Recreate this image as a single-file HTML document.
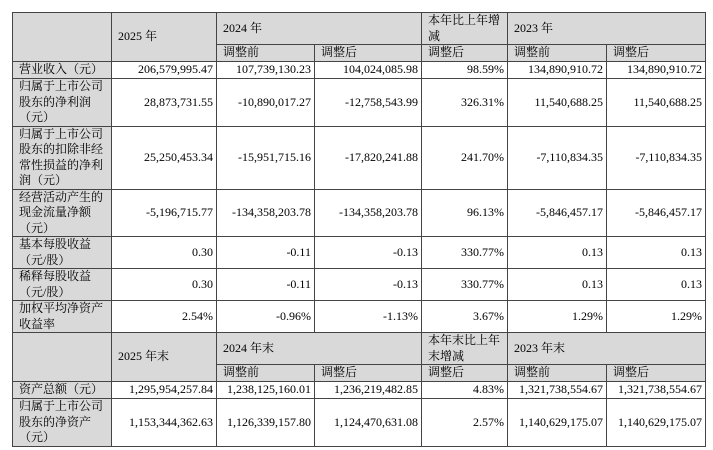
<!DOCTYPE html>
<html><head><meta charset="utf-8"><style>
body{margin:0;background:#fff;width:713px;height:450px;overflow:hidden;position:relative}
table{position:absolute;left:12px;top:12px;border-collapse:collapse;table-layout:fixed;font-family:"Liberation Serif","Noto Serif CJK SC",serif;font-size:12px;color:#000}
td{border:1px solid #444;padding:0 3px 0 6px;line-height:15.5px;overflow:hidden;vertical-align:middle}
.g{background:#d9d9d9}
.r{text-align:right}
.l{padding-left:6px}
</style></head><body>
<table>
<colgroup><col style="width:99px"><col style="width:105px"><col style="width:98px"><col style="width:107px"><col style="width:86px"><col style="width:99px"><col style="width:99px"></colgroup>
<tr style="height:31px"><td class="g" rowspan="2"></td><td class="g" rowspan="2">2025 年</td><td class="g" colspan="2">2024 年</td><td class="g">本年比上年增减</td><td class="g" colspan="2">2023 年</td></tr>
<tr style="height:17px"><td class="g">调整前</td><td class="g">调整后</td><td class="g">调整后</td><td class="g">调整前</td><td class="g">调整后</td></tr>
<tr style="height:17px"><td class="g">营业收入（元）</td><td class="r">206,579,995.47</td><td class="r">107,739,130.23</td><td class="r">104,024,085.98</td><td class="r">98.59%</td><td class="r">134,890,910.72</td><td class="r">134,890,910.72</td></tr>
<tr style="height:47px"><td class="g">归属于上市公司股东的净利润（元）</td><td class="r">28,873,731.55</td><td class="r">-10,890,017.27</td><td class="r">-12,758,543.99</td><td class="r">326.31%</td><td class="r">11,540,688.25</td><td class="r">11,540,688.25</td></tr>
<tr style="height:62px"><td class="g">归属于上市公司股东的扣除非经常性损益的净利润（元）</td><td class="r">25,250,453.34</td><td class="r">-15,951,715.16</td><td class="r">-17,820,241.88</td><td class="r">241.70%</td><td class="r">-7,110,834.35</td><td class="r">-7,110,834.35</td></tr>
<tr style="height:47px"><td class="g">经营活动产生的现金流量净额（元）</td><td class="r">-5,196,715.77</td><td class="r">-134,358,203.78</td><td class="r">-134,358,203.78</td><td class="r">96.13%</td><td class="r">-5,846,457.17</td><td class="r">-5,846,457.17</td></tr>
<tr style="height:32px"><td class="g">基本每股收益（元/股）</td><td class="r">0.30</td><td class="r">-0.11</td><td class="r">-0.13</td><td class="r">330.77%</td><td class="r">0.13</td><td class="r">0.13</td></tr>
<tr style="height:31px"><td class="g">稀释每股收益（元/股）</td><td class="r">0.30</td><td class="r">-0.11</td><td class="r">-0.13</td><td class="r">330.77%</td><td class="r">0.13</td><td class="r">0.13</td></tr>
<tr style="height:32px"><td class="g">加权平均净资产收益率</td><td class="r">2.54%</td><td class="r">-0.96%</td><td class="r">-1.13%</td><td class="r">3.67%</td><td class="r">1.29%</td><td class="r">1.29%</td></tr>
<tr style="height:31px"><td class="g" rowspan="2"></td><td class="g" rowspan="2">2025 年末</td><td class="g" colspan="2">2024 年末</td><td class="g">本年末比上年末增减</td><td class="g" colspan="2">2023 年末</td></tr>
<tr style="height:17px"><td class="g">调整前</td><td class="g">调整后</td><td class="g">调整后</td><td class="g">调整前</td><td class="g">调整后</td></tr>
<tr style="height:17px"><td class="g">资产总额（元）</td><td class="r">1,295,954,257.84</td><td class="r">1,238,125,160.01</td><td class="r">1,236,219,482.85</td><td class="r">4.83%</td><td class="r">1,321,738,554.67</td><td class="r">1,321,738,554.67</td></tr>
<tr style="height:47px"><td class="g">归属于上市公司股东的净资产（元）</td><td class="r">1,153,344,362.63</td><td class="r">1,126,339,157.80</td><td class="r">1,124,470,631.08</td><td class="r">2.57%</td><td class="r">1,140,629,175.07</td><td class="r">1,140,629,175.07</td></tr>
</table>
</body></html>
